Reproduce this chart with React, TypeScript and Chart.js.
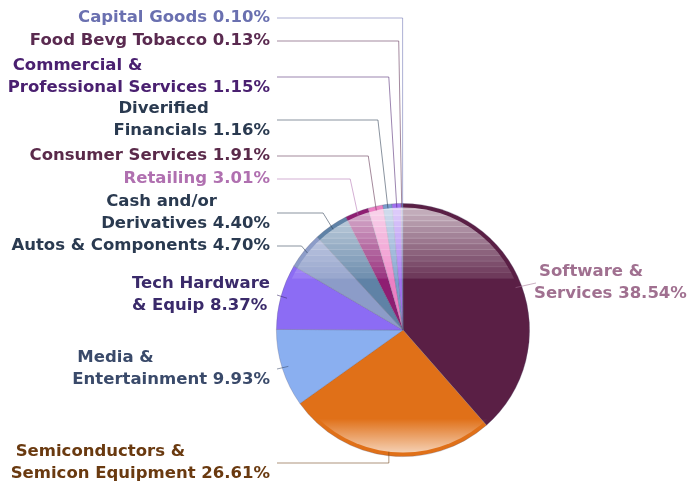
import React, { useEffect, useRef } from "react";
import { Chart, registerables } from "chart.js";

Chart.register(...registerables);

// ---- data ----
const categories = [
  "Software & Services",
  "Semiconductors & Semicon Equipment",
  "Media & Entertainment",
  "Tech Hardware & Equip",
  "Autos & Components",
  "Cash and/or Derivatives",
  "Retailing",
  "Consumer Services",
  "Diverified Financials",
  "Commercial & Professional Services",
  "Food Bevg Tobacco",
  "Capital Goods",
];
const values = [38.54, 26.61, 9.93, 8.37, 4.7, 4.4, 3.01, 1.91, 1.16, 1.15, 0.13, 0.1];
// number of words on first line of the wrapped label (0 = single line)
const firstLineWords = [2, 2, 2, 2, 0, 2, 0, 0, 1, 2, 0, 0];

// ---- styles ----
const sliceColors = [
  "#5a1f45", "#e07018", "#8aaff0", "#8c6cf4", "#8c9cc8", "#5f82a6",
  "#8e1e72", "#ec80c4", "#7a9ccc", "#a070f0", "#c890d0", "#6070c0",
];
const labelColors = [
  "#a07090", "#6a3a10", "#3a4a6a", "#3a2a6a", "#2a3a50", "#2a3a50",
  "#b070b0", "#5a2a4a", "#2a3a50", "#4a2070", "#5a2a50", "#6a70b0",
];
// layout: side, edge x, first-line y, leader mode (number = elbow dx, -1 = direct)
const labelSide = ["right", "left", "left", "left", "left", "left", "left", "left", "left", "left", "left", "left"];
const labelEdgeX = [534, 270, 270, 270, 270, 270, 270, 270, 270, 270, 270, 270];
const labelTopY = [272, 452, 358, 284, 246, 202, 179, 156, 109, 66, 41, 18];
const leaderElbow = [-1, 0, -1, -1, 6, 10, 8, 8, 10, 8, 3, 0];

const FONT = "bold 16.5px 'DejaVu Sans', Verdana, sans-serif";
const LINE_H = 22;

function labelLines(i: number): string[] {
  const text = `${categories[i]} ${values[i].toFixed(2)}%`;
  const words = text.split(" ");
  const n = firstLineWords[i];
  if (!n) return [text];
  return [words.slice(0, n).join(" "), words.slice(n).join(" ")];
}

const glossPlugin = {
  id: "gloss",
  afterDatasetsDraw(chart: any) {
    const meta = chart.getDatasetMeta(0);
    const a0 = meta.data[0];
    if (!a0) return;
    const ctx = chart.ctx as CanvasRenderingContext2D;
    const cx = a0.x, cy = a0.y, R = a0.outerRadius;
    ctx.save();
    ctx.beginPath();
    ctx.arc(cx, cy, R - 4, 0, Math.PI * 2);
    ctx.clip();
    // top banded gloss
    const top = cy - R;
    const end = cy - R * 0.41;
    const n = 13;
    const h = (end - top) / n;
    for (let k = 0; k < n; k++) {
      const a = 0.68 - (k * 0.56) / (n - 1);
      ctx.fillStyle = `rgba(255,255,255,${a})`;
      ctx.fillRect(cx - R, top + k * h, 2 * R, h + 0.5);
    }
    // bottom gloss
    const bs = cy + R * 0.7;
    const g = ctx.createLinearGradient(0, bs, 0, cy + R);
    g.addColorStop(0, "rgba(255,255,255,0)");
    g.addColorStop(1, "rgba(255,255,255,0.75)");
    ctx.fillStyle = g;
    ctx.fillRect(cx - R, bs, 2 * R, cy + R - bs);
    ctx.restore();
  },
  afterDraw(chart: any) {
    const meta = chart.getDatasetMeta(0);
    const ctx = chart.ctx as CanvasRenderingContext2D;
    ctx.save();
    ctx.font = FONT;
    ctx.textBaseline = "middle";
    meta.data.forEach((arc: any, i: number) => {
      const lines = labelLines(i);
      const widths = lines.map((l) => ctx.measureText(l).width);
      const maxW = Math.max(...widths);
      const indent = lines.length > 1 ? 5 : 0;
      const side = labelSide[i];
      const blockLeft = side === "left" ? labelEdgeX[i] - maxW : labelEdgeX[i];
      ctx.fillStyle = labelColors[i];
      ctx.textAlign = "left";
      lines.forEach((l, j) => {
        const x = lines.length > 1 && widths[j] < maxW && j === 0 ? blockLeft + indent : blockLeft;
        const xx = side === "left" && lines.length === 1 ? labelEdgeX[i] - widths[j] : x;
        ctx.fillText(l, xx, labelTopY[i] + j * LINE_H);
      });
      // leader line
      const mid = (arc.startAngle + arc.endAngle) / 2;
      const direct = leaderElbow[i] < 0;
      const r = direct ? arc.outerRadius * 0.95 : arc.outerRadius - 4;
      const ax = arc.x + Math.cos(mid) * r;
      const ay = arc.y + Math.sin(mid) * r;
      const midY = labelTopY[i] + ((lines.length - 1) * LINE_H) / 2;
      const sx = side === "left" ? labelEdgeX[i] + 7 : labelEdgeX[i] + 2;
      ctx.strokeStyle = labelColors[i];
      ctx.globalAlpha = 0.55;
      ctx.lineWidth = 1;
      ctx.beginPath();
      ctx.moveTo(sx, midY);
      if (!direct) ctx.lineTo(ax - leaderElbow[i], midY);
      ctx.lineTo(ax, ay);
      ctx.stroke();
      ctx.globalAlpha = 1;
    });
    ctx.restore();
  },
};

export default function App() {
  const ref = useRef<HTMLCanvasElement | null>(null);
  useEffect(() => {
    if (!ref.current) return;
    const chart = new Chart(ref.current, {
      type: "pie",
      data: {
        labels: categories,
        datasets: [
          {
            data: values,
            backgroundColor: sliceColors,
            borderColor: "rgba(90,90,120,0.35)",
            borderWidth: 0.8,
          },
        ],
      },
      options: {
        responsive: true,
        maintainAspectRatio: false,
        animation: false,
        layout: { padding: { left: 276, right: 159, top: 203, bottom: 28 } },
        plugins: {
          legend: { display: false },
          tooltip: { enabled: false },
        },
      },
      plugins: [glossPlugin],
    });
    return () => chart.destroy();
  }, []);
  return (
    <div style={{ position: "fixed", left: 0, top: 0, width: 689, height: 485, background: "#fff" }}>
      <canvas ref={ref} />
    </div>
  );
}
